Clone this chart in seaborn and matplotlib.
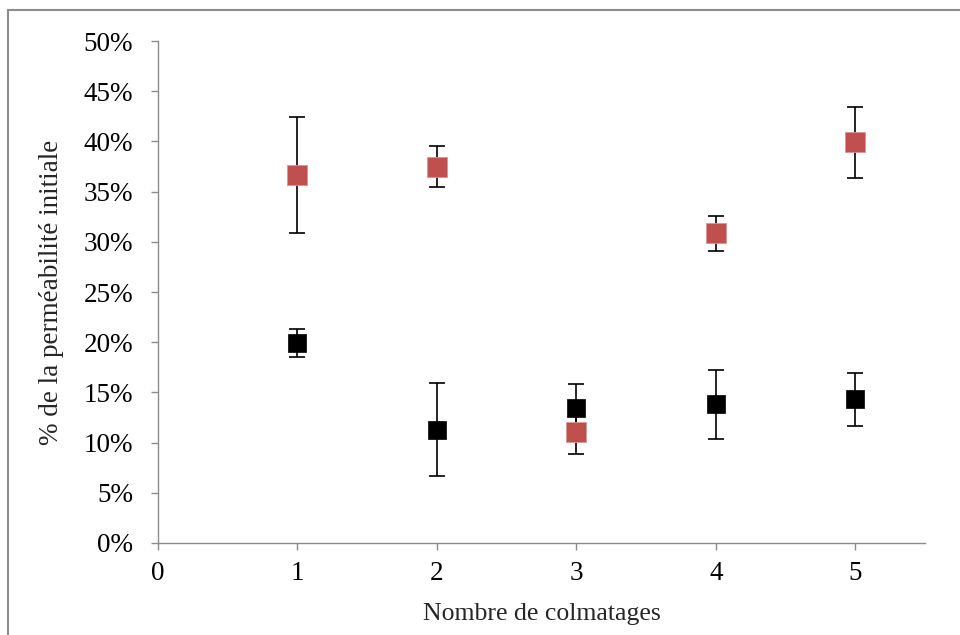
import numpy as np
import pandas as pd
import matplotlib.pyplot as plt
import seaborn as sns
from matplotlib.patches import Rectangle
from matplotlib.ticker import PercentFormatter

colmatages = [1, 2, 3, 4, 5]
rouge = [36.65, 37.5, 11.1, 30.85, 39.9]
rouge_err = [5.8, 2.0, 2.2, 1.75, 3.5]
noir = [19.9, 11.3, 13.4, 13.8, 14.3]
noir_err = [1.4, 4.65, 2.4, 3.4, 2.6]

sns.set_style("ticks")
plt.rcParams['font.family'] = ['Liberation Serif', 'DejaVu Serif']

fig = plt.figure(figsize=(9.6, 6.35), dpi=100)
ax = fig.add_axes([0.1646, 0.1449, 0.7989, 0.7905])

fig.patches.append(Rectangle((8 / 960, -0.1), 1.2, 1 - 10 / 635 + 0.1,
                             transform=fig.transFigure, fill=False,
                             edgecolor='#8c8c8c', linewidth=1.5))

ax.errorbar(colmatages, noir, yerr=noir_err, fmt='none', ecolor='black',
            elinewidth=1.2, capsize=6, capthick=1.2, zorder=2)
ax.errorbar(colmatages, rouge, yerr=rouge_err, fmt='none', ecolor='black',
            elinewidth=1.2, capsize=6, capthick=1.2, zorder=2)

df_noir = pd.DataFrame({'x': colmatages, 'y': noir})
df_rouge = pd.DataFrame({'x': colmatages, 'y': rouge})
sns.scatterplot(data=df_noir, x='x', y='y', marker='s', s=150, color='black',
                edgecolor='black', linewidth=0.5, ax=ax, zorder=3)
sns.scatterplot(data=df_rouge, x='x', y='y', marker='s', s=200, color='#C0504D',
                edgecolor='#d99694', linewidth=0.6, ax=ax, zorder=3)

ax.set_xlim(0, 5.5)
ax.set_ylim(0, 50)
ax.set_xticks([0, 1, 2, 3, 4, 5])
ax.set_yticks(np.arange(0, 51, 5))
ax.yaxis.set_major_formatter(PercentFormatter(decimals=0))

sns.despine(ax=ax)
for s in ['left', 'bottom']:
    ax.spines[s].set_color('#8c8c8c')
    ax.spines[s].set_linewidth(1.0)
ax.tick_params(axis='both', colors='#8c8c8c', labelcolor='black',
               labelsize=19.5, length=5, width=1.0, direction='out')
ax.tick_params(axis='y', pad=13)
ax.tick_params(axis='x', pad=8)

ax.set_xlabel('Nombre de colmatages', fontsize=18.5, labelpad=12)
ax.set_ylabel('% de la perméabilité initiale', fontsize=19.5, labelpad=14)

fig.savefig('out.png', dpi=100)
